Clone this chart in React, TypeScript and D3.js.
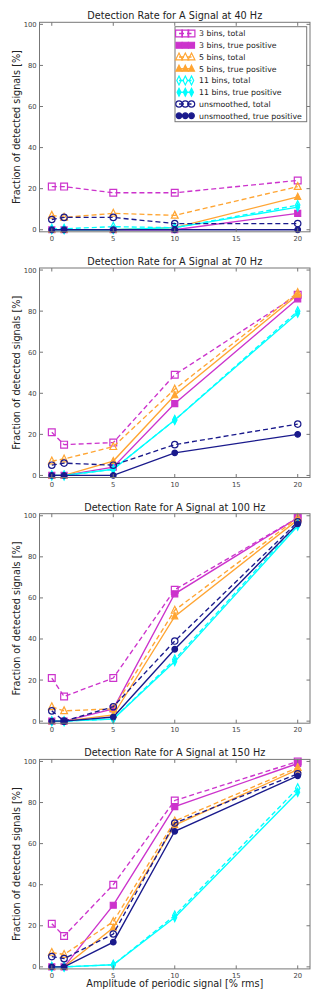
import React from "react";
import * as d3 from "d3";

// amplitudes (x) and one panel per frequency
const amplitudes = [0, 1, 5, 10, 20];
const frequencies = [40, 70, 100, 150];
const xTicks = [0, 5, 10, 15, 20];
const yTicks = [0, 20, 40, 60, 80, 100];

// values per frequency panel, [%]
const bins3Total = [
  [21, 21, 18, 18, 24],
  [21, 15, 16, 49, 88],
  [21, 12, 21, 64, 99],
  [21, 15, 40, 81, 100],
];
const bins3True = [
  [0, 0, 0, 0, 8],
  [0, 0, 4, 35, 86],
  [0, 0, 6, 62, 99],
  [0, 0, 30, 78, 99],
];
const bins5Total = [
  [7, 6, 8, 7, 21],
  [7, 8, 14, 42, 89],
  [7, 5, 6, 54, 99],
  [7, 6, 22, 71, 97],
];
const bins5True = [
  [0, 0, 0, 1, 16],
  [0, 0, 7, 39, 88],
  [0, 0, 3, 51, 98],
  [0, 0, 19, 69, 96],
];
const bins11Total = [
  [0.5, 0.5, 1.5, 1, 12],
  [0, 0, 3, 27, 80],
  [0, 0, 1, 30, 96],
  [0, 0, 1, 25, 87],
];
const bins11True = [
  [0, 0, 0, 1, 11],
  [0, 0, 3, 27, 79],
  [0, 0, 1, 29, 95],
  [0, 0, 1, 24, 85],
];
const unsmTotal = [
  [5, 6, 6, 3, 3],
  [5, 6, 5, 15, 25],
  [5, 0, 7, 39, 97],
  [5, 4, 16, 70, 94],
];
const unsmTrue = [
  [0, 0, 0, 0, 0],
  [0, 0, 0, 11, 20],
  [0, 0, 2, 35, 96],
  [0, 0, 12, 66, 93],
];

const MAGENTA = "#cc33cc";
const ORANGE = "#ffa533";
const CYAN = "#00ffff";
const NAVY = "#1a1a8c";

const series = [
  { label: "3 bins, total", values: bins3Total, color: MAGENTA, marker: "square", filled: false, dashed: true },
  { label: "3 bins, true positive", values: bins3True, color: MAGENTA, marker: "square", filled: true, dashed: false },
  { label: "5 bins, total", values: bins5Total, color: ORANGE, marker: "triangle", filled: false, dashed: true },
  { label: "5 bins, true positive", values: bins5True, color: ORANGE, marker: "triangle", filled: true, dashed: false },
  { label: "11 bins, total", values: bins11Total, color: CYAN, marker: "diamond", filled: false, dashed: true },
  { label: "11 bins, true positive", values: bins11True, color: CYAN, marker: "diamond", filled: true, dashed: false },
  { label: "unsmoothed, total", values: unsmTotal, color: NAVY, marker: "circle", filled: false, dashed: true },
  { label: "unsmoothed, true positive", values: unsmTrue, color: NAVY, marker: "circle", filled: true, dashed: false },
];

const W = 323;
const H = 1001;
const left = 39.5;
const right = 310;
const firstTop = 22.3;
const panelStep = 245.7;
const plotH = 209.5;
const FONT = "'DejaVu Sans', sans-serif";
const LABEL_SIZE = 9.7;
const TICK_SIZE = 6.8;
const LW = 1.35;
const DASH = "5,3";

// marker outline centred on 0,0
function markerPath(kind: string, filled: boolean) {
  const s = filled ? 3 : 3.4;
  switch (kind) {
    case "square":
      return `M${-s},${-s}H${s}V${s}H${-s}Z`;
    case "triangle":
      return `M0,${-s - 0.6}L${s},${s - 0.6}L${-s},${s - 0.6}Z`;
    case "diamond":
      return `M0,${-s - 1}L${s * 0.65},0L0,${s + 1}L${-s * 0.65},0Z`;
    default:
      return d3.symbol(d3.symbolCircle, Math.PI * (s - 0.2) * (s - 0.2))() as string;
  }
}

function Marker({ x, y, s }: { x: number; y: number; s: any }) {
  return (
    <path
      d={markerPath(s.marker, s.filled)}
      transform={`translate(${x},${y})`}
      fill={s.filled ? s.color : "none"}
      stroke={s.color}
      strokeWidth={1.2}
    />
  );
}

function Panel({ idx }: { idx: number }) {
  const top = firstTop + idx * panelStep;
  const bottom = top + plotH;
  const x = d3.scaleLinear().domain([-1, 21]).range([left, right]);
  const y = d3.scaleLinear().domain([-1, 101]).range([bottom, top]);
  const line = d3
    .line<number>()
    .x((_, i) => x(amplitudes[i]))
    .y((d) => y(d));
  const midX = (left + right) / 2;

  return (
    <g>
      <text x={midX} y={top - 3} textAnchor="middle" fontSize={LABEL_SIZE} fill="#222" fontFamily={FONT}>
        {`Detection Rate for A Signal at ${frequencies[idx]} Hz`}
      </text>
      <text
        transform={`translate(19.5,${(top + bottom) / 2}) rotate(-90)`}
        textAnchor="middle"
        fontSize={LABEL_SIZE}
        fill="#222"
        fontFamily={FONT}
      >
        Fraction of detected signals [%]
      </text>
      {series.map((s, k) => (
        <g key={k}>
          <path
            d={line(s.values[idx]) as string}
            fill="none"
            stroke={s.color}
            strokeWidth={LW}
            strokeDasharray={s.dashed ? DASH : undefined}
          />
          {s.values[idx].map((v, i) => (
            <Marker key={i} x={x(amplitudes[i])} y={y(v)} s={s} />
          ))}
        </g>
      ))}
      <rect x={left} y={top} width={right - left} height={plotH} fill="none" stroke="#777" strokeWidth={1} />
      {xTicks.map((t) => (
        <g key={"x" + t}>
          <line x1={x(t)} x2={x(t)} y1={bottom} y2={bottom - 3.5} stroke="#777" />
          <line x1={x(t)} x2={x(t)} y1={top} y2={top + 3.5} stroke="#777" />
          <text x={x(t)} y={bottom + 9} textAnchor="middle" fontSize={TICK_SIZE} fill="#444" fontFamily={FONT}>
            {t}
          </text>
        </g>
      ))}
      {yTicks.map((t) => (
        <g key={"y" + t}>
          <line x1={left} x2={left + 3.5} y1={y(t)} y2={y(t)} stroke="#777" />
          <line x1={right} x2={right - 3.5} y1={y(t)} y2={y(t)} stroke="#777" />
          <text x={left - 2.8} y={y(t) + 2.5} textAnchor="end" fontSize={TICK_SIZE} fill="#444" fontFamily={FONT}>
            {t}
          </text>
        </g>
      ))}
      {idx === 0 && <Legend />}
      {idx === frequencies.length - 1 && (
        <text x={midX} y={bottom + 18.5} textAnchor="middle" fontSize={LABEL_SIZE} fill="#222" fontFamily={FONT}>
          Amplitude of periodic signal [% rms]
        </text>
      )}
    </g>
  );
}

function Legend() {
  const lx = 175;
  const ly = 26.7;
  const rowH = 11.75;
  return (
    <g>
      <rect x={lx} y={ly} width={131.7} height={95} fill="#fff" stroke="#777" strokeWidth={1} />
      {series.map((s, k) => {
        const cy = ly + 6.8 + k * rowH;
        return (
          <g key={k}>
            <line x1={lx + 4} x2={lx + 16.5} y1={cy} y2={cy} stroke={s.color} strokeWidth={LW}
              strokeDasharray={s.dashed ? DASH : undefined} />
            {[lx + 4, lx + 10.3, lx + 16.5].map((mx, i) => (
              <Marker key={i} x={mx} y={cy} s={s} />
            ))}
            <text x={lx + 24} y={cy + 2.8} fontSize={7.8} fill="#222" fontFamily={FONT}>
              {s.label}
            </text>
          </g>
        );
      })}
    </g>
  );
}

export default function App() {
  return (
    <svg
      width={W}
      height={H}
      style={{ position: "absolute", left: 0, top: 0, background: "#fff" }}
    >
      <rect width={W} height={H} fill="#fff" />
      {frequencies.map((_, i) => (
        <Panel key={i} idx={i} />
      ))}
    </svg>
  );
}
